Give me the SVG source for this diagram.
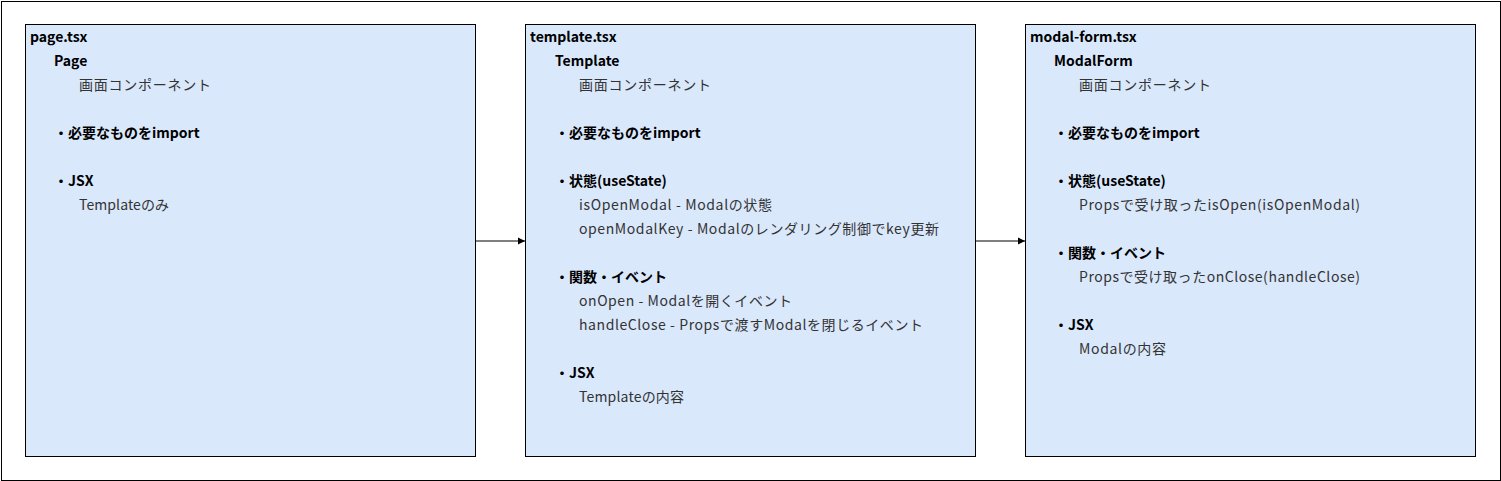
<svg xmlns="http://www.w3.org/2000/svg" width="1501" height="481" viewBox="0 0 1501 481">
<style>
text{font-family:"Noto Sans CJK JP","Noto Sans",sans-serif;font-size:14px;}
.b{font-weight:bold;fill:#000;}
.n{fill:#333;}
.box{fill:#dae8fc;stroke:#000;stroke-width:1;}
.edge{stroke:#000;stroke-width:1;fill:none;}
</style>
<defs>
<marker id="arr" markerWidth="8" markerHeight="8" refX="7" refY="4" orient="auto" markerUnits="userSpaceOnUse">
<path d="M0,0.5 L7,4 L0,7.5 Z" fill="#000"/>
</marker>
</defs>
<rect x="1.5" y="1.5" width="1499" height="479" fill="#fff" stroke="#000" stroke-width="1"/>
<g id="connectors">
<line class="edge" x1="475.5" y1="241" x2="525" y2="241" marker-end="url(#arr)"/>
<line class="edge" x1="975.5" y1="241" x2="1025" y2="241" marker-end="url(#arr)"/>
</g>
<g id="page">
<rect class="box" x="25.5" y="24.5" width="450" height="432"/>
<text class="b" x="30" y="42">page.tsx</text>
<text class="b" x="54" y="66">Page</text>
<text class="n" x="79" y="90" textLength="132" lengthAdjust="spacing">画面コンポーネント</text>
<text class="b" x="54" y="138">・必要なものをimport</text>
<text class="b" x="54" y="186">・JSX</text>
<text class="n" x="79" y="210" textLength="90" lengthAdjust="spacing">Templateのみ</text>
</g>
<g id="template">
<rect class="box" x="525.5" y="24.5" width="450" height="432"/>
<text class="b" x="530" y="42">template.tsx</text>
<text class="b" x="555" y="66">Template</text>
<text class="n" x="579" y="90" textLength="132" lengthAdjust="spacing">画面コンポーネント</text>
<text class="b" x="555" y="138">・必要なものをimport</text>
<text class="b" x="555" y="186">・状態(useState)</text>
<text class="n" x="579" y="210" textLength="193" lengthAdjust="spacing">isOpenModal - Modalの状態</text>
<text class="n" x="579" y="234" textLength="360" lengthAdjust="spacing">openModalKey - Modalのレンダリング制御でkey更新</text>
<text class="b" x="555" y="282">・関数・イベント</text>
<text class="n" x="579" y="306" textLength="213" lengthAdjust="spacing">onOpen - Modalを開くイベント</text>
<text class="n" x="579" y="330" textLength="344" lengthAdjust="spacing">handleClose - Propsで渡すModalを閉じるイベント</text>
<text class="b" x="555" y="378">・JSX</text>
<text class="n" x="579" y="402" textLength="105" lengthAdjust="spacing">Templateの内容</text>
</g>
<g id="modal-form">
<rect class="box" x="1025.5" y="24.5" width="450" height="432"/>
<text class="b" x="1030" y="42">modal-form.tsx</text>
<text class="b" x="1054" y="66">ModalForm</text>
<text class="n" x="1079" y="90" textLength="132" lengthAdjust="spacing">画面コンポーネント</text>
<text class="b" x="1054" y="138">・必要なものをimport</text>
<text class="b" x="1054" y="186">・状態(useState)</text>
<text class="n" x="1079" y="210" textLength="281" lengthAdjust="spacing">Propsで受け取ったisOpen(isOpenModal)</text>
<text class="b" x="1054" y="258">・関数・イベント</text>
<text class="n" x="1079" y="282" textLength="281" lengthAdjust="spacing">Propsで受け取ったonClose(handleClose)</text>
<text class="b" x="1054" y="330">・JSX</text>
<text class="n" x="1079" y="354" textLength="87" lengthAdjust="spacing">Modalの内容</text>
</g>
</svg>
